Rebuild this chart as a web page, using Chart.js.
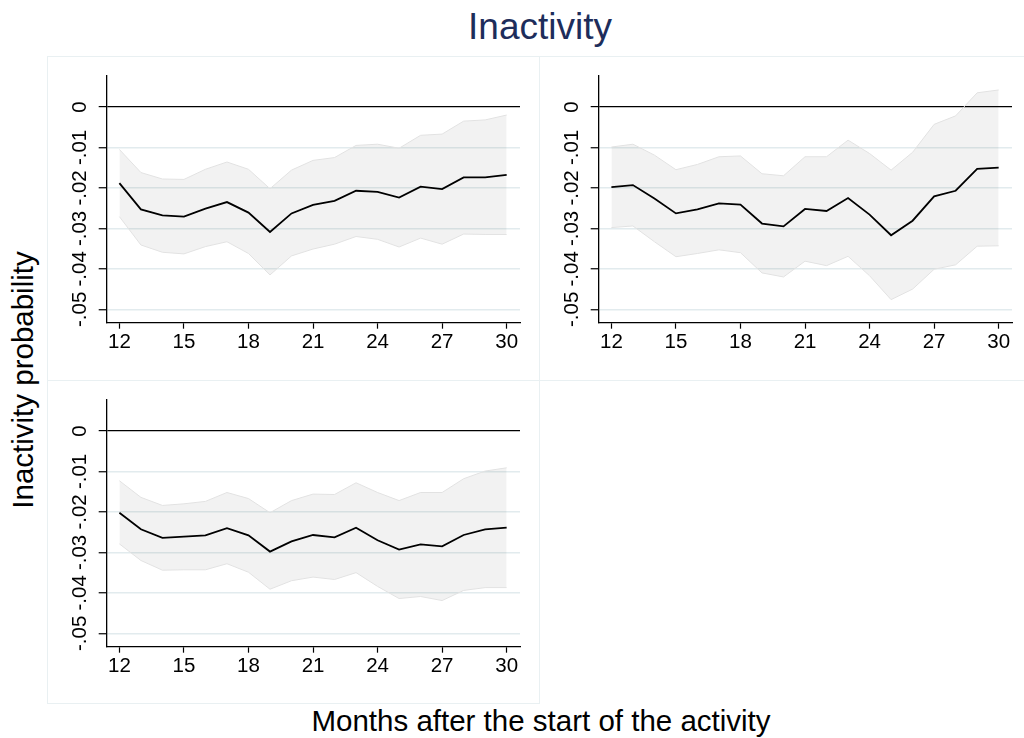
<!DOCTYPE html>
<html>
<head>
<meta charset="utf-8">
<script src="https://cdn.jsdelivr.net/npm/chart.js@4"></script>
<style>
  body { margin: 0; width: 1024px; height: 738px; overflow: hidden; background: #fff; position: relative; font-family: "Liberation Sans", Arial, sans-serif; }
  .box { position: absolute; border: 1px solid #e9f0f2; box-sizing: border-box; }
  .box canvas { position: absolute; left: 0; top: 0; }
  .title { position: absolute; left: 0; width: 1080px; text-align: center; top: 6px; font-size: 37px; color: #1d2d5b; }
  .ytitle { position: absolute; left: 23px; top: 380px; font-size: 29.5px; white-space: nowrap; transform: translate(-50%, -50%) rotate(-90deg); }
  .xtitle { position: absolute; left: 0; width: 1082px; text-align: center; top: 704px; font-size: 29.5px; white-space: nowrap; }
</style>
</head>
<body>
<div class="title">Inactivity</div>
<div class="ytitle">Inactivity probability</div>
<div class="xtitle">Months after the start of the activity</div>
<div class="box" style="left:47px;top:56px;width:493px;height:325px"><canvas id="p1" width="492" height="324"></canvas></div>
<div class="box" style="left:539px;top:56px;width:493px;height:325px"><canvas id="p2" width="492" height="324"></canvas></div>
<div class="box" style="left:47px;top:380px;width:493px;height:324px"><canvas id="p3" width="492" height="324"></canvas></div>
<script>
const months = [12,13,14,15,16,17,18,19,20,21,22,23,24,25,26,27,28,29,30]
const xTicks = [12,15,18,21,24,27,30]
const yTicks = [0,-0.01,-0.02,-0.03,-0.04,-0.05]
const yTickLabels = ['0','-.01','-.02','-.03','-.04','-.05']

// panel 1 (top left)
const p1Mean  = [-0.0188,-0.0253,-0.0268,-0.0271,-0.0251,-0.0235,-0.0261,-0.0309,-0.0263,-0.0242,-0.0232,-0.0207,-0.0210,-0.0224,-0.0197,-0.0203,-0.0174,-0.0174,-0.0168]
const p1Upper = [-0.0105,-0.0162,-0.0178,-0.0179,-0.0154,-0.0136,-0.0154,-0.0202,-0.0156,-0.0132,-0.0125,-0.0095,-0.0092,-0.0102,-0.0070,-0.0067,-0.0035,-0.0032,-0.0020]
const p1Lower = [-0.0271,-0.0341,-0.0359,-0.0363,-0.0345,-0.0333,-0.0362,-0.0415,-0.0368,-0.0351,-0.0339,-0.0320,-0.0327,-0.0346,-0.0324,-0.0339,-0.0314,-0.0315,-0.0315]

// panel 2 (top right)
const p2Mean  = [-0.0198,-0.0193,-0.0226,-0.0263,-0.0253,-0.0238,-0.0241,-0.0288,-0.0295,-0.0252,-0.0257,-0.0225,-0.0266,-0.0317,-0.0281,-0.0221,-0.0207,-0.0153,-0.0150]
const p2Upper = [-0.0099,-0.0092,-0.0119,-0.0155,-0.0142,-0.0123,-0.0121,-0.0165,-0.0170,-0.0123,-0.0123,-0.0082,-0.0115,-0.0156,-0.0112,-0.0043,-0.0022,0.0035,0.0042]
const p2Lower = [-0.0298,-0.0294,-0.0333,-0.0370,-0.0362,-0.0353,-0.0360,-0.0410,-0.0420,-0.0381,-0.0392,-0.0369,-0.0417,-0.0476,-0.0450,-0.0401,-0.0390,-0.0344,-0.0343]

// panel 3 (bottom left)
const p3Mean  = [-0.0202,-0.0243,-0.0264,-0.0261,-0.0258,-0.0240,-0.0258,-0.0298,-0.0273,-0.0257,-0.0263,-0.0239,-0.0270,-0.0293,-0.0280,-0.0285,-0.0257,-0.0243,-0.0239]
const p3Upper = [-0.0123,-0.0164,-0.0184,-0.0180,-0.0174,-0.0152,-0.0167,-0.0202,-0.0172,-0.0156,-0.0157,-0.0128,-0.0152,-0.0172,-0.0152,-0.0152,-0.0118,-0.0099,-0.0091]
const p3Lower = [-0.0279,-0.0320,-0.0344,-0.0343,-0.0343,-0.0328,-0.0349,-0.0391,-0.0370,-0.0361,-0.0367,-0.0350,-0.0384,-0.0414,-0.0409,-0.0419,-0.0394,-0.0387,-0.0387]

const tickFont = '20.5px "Liberation Sans", Arial, sans-serif'

// tick labels drawn by hand so the y ones can be turned like in the original
const tickText = {
    id: 'tickText',
    afterDraw(chart){
        const ctx = chart.ctx
        const x = chart.scales.x, y = chart.scales.y
        ctx.save()
        ctx.fillStyle = '#000'
        ctx.font = tickFont
        ctx.textAlign = 'center'
        ctx.textBaseline = 'middle'
        xTicks.forEach(v => ctx.fillText(String(v), x.getPixelForValue(v), x.top + 20))
        yTicks.forEach((v, i) => {
            ctx.save()
            ctx.translate(y.right - 26, y.getPixelForValue(v))
            ctx.rotate(-Math.PI / 2)
            ctx.fillText(yTickLabels[i], 0, 0)
            ctx.restore()
        })
        ctx.restore()
    }
}

function pts(vals){
    return months.map((m, i) => ({x: m, y: vals[i]}))
}

function makePanel(id, mean, upper, lower){
    new Chart(document.getElementById(id), {
        type: 'line',
        data: {
            datasets: [
                {data: pts(lower), borderColor: '#e2e2e2', borderWidth: 1, pointRadius: 0, fill: false},
                {data: pts(upper), borderColor: '#e2e2e2', borderWidth: 1, pointRadius: 0,
                 fill: '-1', backgroundColor: 'rgba(0,0,0,0.05)'},
                {data: pts(mean), borderColor: '#000', borderWidth: 1.8, pointRadius: 0, fill: false}
            ]
        },
        options: {
            responsive: false,
            animation: false,
            events: [],
            layout: {padding: {top: 19, right: 20, left: 0, bottom: 0}},
            plugins: {legend: {display: false}, tooltip: {enabled: false}},
            scales: {
                x: {
                    type: 'linear', min: 11.41, max: 30.62,
                    afterBuildTicks: s => { s.ticks = xTicks.map(v => ({value: v})) },
                    afterFit: s => { s.height = 58.3 },
                    ticks: {display: false},
                    grid: {drawOnChartArea: false, drawTicks: true, tickLength: 6, tickColor: '#000', tickWidth: 1.2},
                    border: {display: true, color: '#000', width: 1.3}
                },
                y: {
                    type: 'linear', min: -0.0533, max: 0.00765,
                    afterBuildTicks: s => { s.ticks = yTicks.map(v => ({value: v})) },
                    afterFit: s => { s.width = 58.7 },
                    ticks: {display: false},
                    grid: {
                        drawTicks: true, tickLength: 8, tickColor: '#000', tickWidth: 1.2,
                        color: c => (c.tick && c.tick.value === 0) ? '#000' : '#e2ebee',
                        lineWidth: c => (c.tick && c.tick.value === 0) ? 1.2 : 1.5
                    },
                    border: {display: true, color: '#000', width: 1.3}
                }
            }
        },
        plugins: [tickText]
    })
}

makePanel('p1', p1Mean, p1Upper, p1Lower)
makePanel('p2', p2Mean, p2Upper, p2Lower)
makePanel('p3', p3Mean, p3Upper, p3Lower)
</script>
</body>
</html>
